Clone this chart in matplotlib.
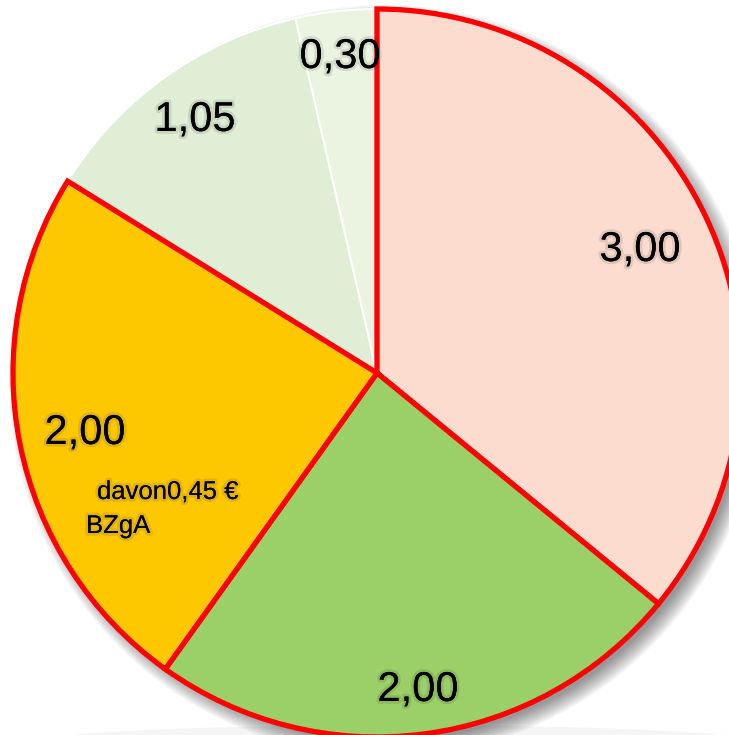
import matplotlib
matplotlib.use("Agg")
import matplotlib.pyplot as plt
import matplotlib.patheffects as pe
from matplotlib.patches import Circle, Ellipse

plt.rcParams['font.family'] = ['Liberation Sans', 'DejaVu Sans']

# Werte
werte = [3.00, 2.00, 2.00, 1.05, 0.30]
labels = ['3,00', '2,00', '2,00', '1,05', '0,30']
farben = ['#FCDCCE', '#9BCF67', '#FDC800', '#DFEED5', '#EAF4E1']
kanten = ['#FF0000', '#FF0000', '#FF0000', 'white', 'white']
kanten_breite = [3.8, 3.8, 3.8, 1.5, 1.5]
label_pos = [(640, 250), (418, 690), (85, 433), (195, 120), (340, 57)]

W, H = 729, 735
cx, cy = 377, H - 373
r = 364

fig = plt.figure(figsize=(W / 100, H / 100), dpi=100)
ax = fig.add_axes([0, 0, 1, 1])

# faint reflection at the bottom
ax.add_patch(Ellipse((cx + 20, -10), 760, 40, color='#000000', alpha=0.04, lw=0, zorder=0))

# blurred shadow
for k in range(12):
    ax.add_patch(Circle((cx + 8, cy - 8), r + 12 - k * 1.5, color='black',
                        alpha=0.04, lw=0, zorder=0.5))

wedges, _ = ax.pie(werte, colors=farben, startangle=90, counterclock=False,
                   center=(cx, cy), radius=r, frame=True)
for w, ec, lw in zip(wedges, kanten, kanten_breite):
    w.set_edgecolor(ec)
    w.set_linewidth(lw)
    w.set_zorder(2)
# red wedges on top so their borders are not covered
for w in wedges[:3]:
    w.set_zorder(3)

ax.set_xlim(0, W)
ax.set_ylim(0, H)
ax.set_aspect('equal')
ax.axis('off')

glow = [pe.withStroke(linewidth=4, foreground=(0, 0, 0, 0.10))]
for txt, (x, y) in zip(labels, label_pos):
    ax.text(x, H - y, txt, fontsize=30, ha='center', va='center',
            color='black', path_effects=glow, zorder=5)

ax.text(97, H - 492, 'davon0,45 €', fontsize=18.5, ha='left', va='center',
        path_effects=glow, zorder=5)
ax.text(86, H - 526, 'BZgA', fontsize=18.5, ha='left', va='center',
        path_effects=glow, zorder=5)

fig.savefig('out.png', dpi=100)
